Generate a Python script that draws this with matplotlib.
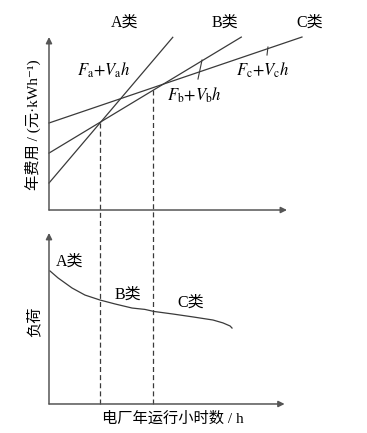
import numpy as np
import matplotlib
matplotlib.use("Agg")
import matplotlib.pyplot as plt

plt.rcParams['font.family'] = ['Liberation Serif', 'Noto Sans CJK SC', 'DejaVu Sans']
plt.rcParams['mathtext.fontset'] = 'stix'

# 上图: 三类电厂的年费用直线 F + V*h
classes = ["A类", "B类", "C类"]
F = [1.56, 3.29, 5.03]          # 固定费用 (截距)
V = [1.62, 0.83, 0.4675]        # 可变费用 (斜率)
x_end = [5.20, 8.08, 10.63]     # 直线画到的横坐标
formulas = [r"$F_{\rm a}{+}V_{\rm a}h$", r"$F_{\rm b}{+}V_{\rm b}h$", r"$F_{\rm c}{+}V_{\rm c}h$"]

# 分界小时数 (虚线)
h_split = [2.14, 4.38]

# 下图: 负荷曲线
load_h = [0.04, 0.38, 0.97, 1.51, 2.14, 2.77, 3.49, 4.03, 4.41, 5.21, 6.05, 6.89, 7.31, 7.61, 7.69]
load_p = [7.78, 7.37, 6.78, 6.37, 6.08, 5.85, 5.61, 5.53, 5.41, 5.26, 5.09, 4.91, 4.74, 4.56, 4.44]

line_c = '#3a3a3a'
axis_c = '#555555'

fig = plt.figure(figsize=(3.67, 4.33), dpi=100)
ax1 = fig.add_axes([0.1335, 0.515, 0.6485, 0.3995])
ax2 = fig.add_axes([0.1335, 0.067, 0.6485, 0.395])

for ax in (ax1, ax2):
    ax.set_xlim(0, 10)
    ax.set_ylim(0, 10)
    for s in ax.spines.values():
        s.set_visible(False)
    ax.set_xticks([])
    ax.set_yticks([])
    ax.patch.set_alpha(0)
    ax.annotate('', xy=(0, 1), xytext=(0, 0), xycoords='axes fraction',
                arrowprops=dict(arrowstyle='-|>', color=axis_c, lw=1.1,
                                mutation_scale=9, shrinkA=0, shrinkB=0))

ax1.annotate('', xy=(1, 0), xytext=(0, 0), xycoords='axes fraction',
             arrowprops=dict(arrowstyle='-|>', color=axis_c, lw=1.1,
                             mutation_scale=9, shrinkA=0, shrinkB=0))
ax2.annotate('', xy=(0.99, 0), xytext=(0, 0), xycoords='axes fraction',
             arrowprops=dict(arrowstyle='-|>', color=axis_c, lw=1.1,
                             mutation_scale=9, shrinkA=0, shrinkB=0))

# 费用直线
for f, v, xe in zip(F, V, x_end):
    xs = np.array([0, xe])
    ax1.plot(xs, f + v * xs, color=line_c, lw=0.9, clip_on=False)

# 类别标签
ax1.text(3.19, 10.8, classes[0], ha='center', va='center', fontsize=11.5)
ax1.text(7.39, 10.8, classes[1], ha='center', va='center', fontsize=11.5)
ax1.text(10.97, 10.8, classes[2], ha='center', va='center', fontsize=11.5)

# 公式标签及引线
ax1.text(2.31, 8.09, formulas[0], ha='center', va='center', fontsize=12)
ax1.text(6.13, 6.65, formulas[1], ha='center', va='center', fontsize=12)
ax1.text(8.99, 8.09, formulas[2], ha='center', va='center', fontsize=12)
ax1.plot([6.43, 6.26], [8.67, 7.57], color=line_c, lw=0.8)
ax1.plot([9.20, 9.16], [9.42, 8.96], color=line_c, lw=0.8)

# 虚线
for i, h in enumerate(h_split):
    top = F[i] + V[i] * h
    ax1.plot([h, h], [top, -1.33], color=line_c, lw=0.9, ls=(0, (4, 2.5)), clip_on=False)
    ax2.plot([h, h], [0, 10], color=line_c, lw=0.9, ls=(0, (4, 2.5)), clip_on=False)

# 负荷曲线
ax2.plot(load_h, load_p, color=line_c, lw=0.9)
ax2.text(0.88, 8.3, classes[0], ha='center', va='center', fontsize=11.5)
ax2.text(3.32, 6.37, classes[1], ha='center', va='center', fontsize=11.5)
ax2.text(5.97, 5.9, classes[2], ha='center', va='center', fontsize=11.5)

fig.text(0.090, 0.711, "年费用 / (元·kWh⁻¹)", rotation=90, ha='center', va='center', fontsize=11)
fig.text(0.093, 0.256, "负荷", rotation=90, ha='center', va='center', fontsize=11)
fig.text(0.471, 0.032, "电厂年运行小时数 / h", ha='center', va='center', fontsize=11)

fig.savefig("out.png", dpi=100)
